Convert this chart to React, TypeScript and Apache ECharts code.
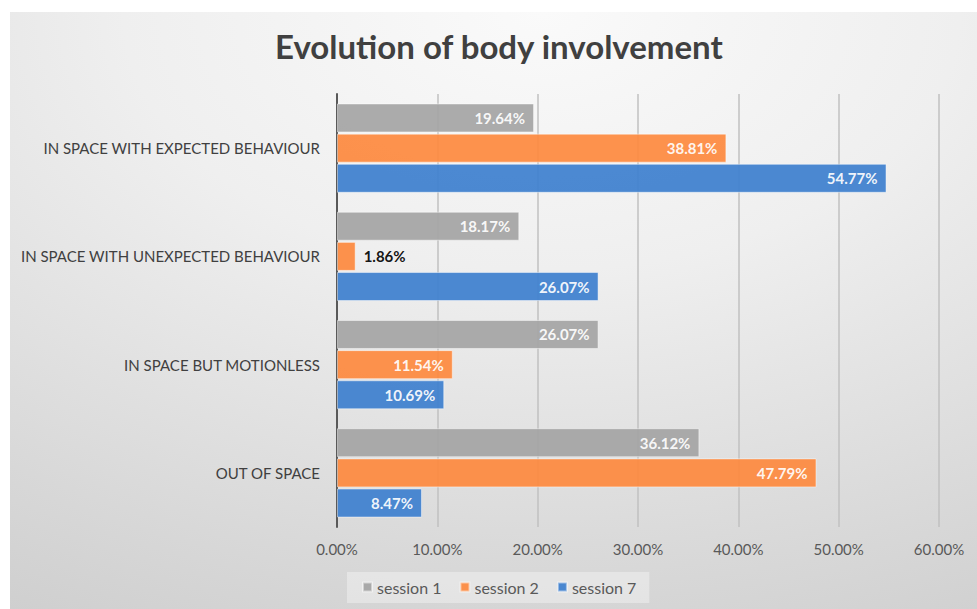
import React, { useEffect, useRef } from "react";
import * as echarts from "echarts";

const categories = [
  "OUT OF SPACE",
  "IN SPACE BUT MOTIONLESS",
  "IN SPACE WITH UNEXPECTED BEHAVIOUR",
  "IN SPACE WITH EXPECTED BEHAVIOUR",
];
const session1 = [36.12, 26.07, 18.17, 19.64];
const session2 = [47.79, 11.54, 1.86, 38.81];
const session7 = [8.47, 10.69, 26.07, 54.77];
const seriesNames = ["session 1", "session 2", "session 7"];
const colors = ["#a5a5a5", "#fd8a3f", "#3e80cf"];
const outsideLabelThreshold = 5;

const FONT = "Lato, 'Open Sans', sans-serif";

export default function App() {
  const ref = useRef<HTMLDivElement>(null);
  useEffect(() => {
    if (!ref.current) return;
    const chart = echarts.init(ref.current, undefined, { renderer: "svg" });
    const mk = (name: string, data: number[], color: string) => ({
      name,
      type: "bar",
      barWidth: 29,
      barGap: "4%",
      itemStyle: { color, opacity: 0.93, borderColor: "rgba(255,255,255,0.5)", borderWidth: 1 },
      data: data.map((v) => {
        const outside = v < outsideLabelThreshold;
        return {
          value: v,
          label: {
            show: true,
            position: outside ? "right" : "insideRight",
            distance: outside ? 8 : 9,
            color: outside ? "#000000" : "#ffffff",
            fontWeight: "bold",
            fontSize: 15,
            fontFamily: FONT,
            formatter: (p: any) => p.value.toFixed(2) + "%",
          },
        };
      }),
    });
    chart.setOption({
      animation: false,
      backgroundColor: "#ffffff",
      title: {
        text: "Evolution of body involvement",
        left: 275,
        top: 29,
        padding: 0,
        textStyle: { fontFamily: FONT, fontSize: 33, fontWeight: "bold", color: "#404040" },
      },
      graphic: [
        {
          type: "rect",
          x: 10,
          y: 12,
          scaleY: 1.6,
          z: -10,
          silent: true,
          shape: { x: 0, y: 0, width: 967, height: 597 / 1.6 },
          style: {
            fill: new echarts.graphic.RadialGradient(0.55, 0.0, 1.44, [
              { offset: 0, color: "#fafafa" },
              { offset: 0.3, color: "#efefef" },
              { offset: 0.65, color: "#d8d8d8" },
              { offset: 1, color: "#c2c2c2" },
            ]),
          },
        },
      ],
      legend: {
        data: seriesNames,
        left: 347,
        top: 572,
        icon: "rect",
        itemWidth: 9,
        itemHeight: 9,
        itemGap: 18,
        padding: [7, 13, 8, 15],
        backgroundColor: "rgba(255,255,255,0.35)",
        textStyle: { fontFamily: FONT, fontSize: 16, color: "#595959" },
      },
      grid: { left: 337, right: 38, top: 94, bottom: 82, containLabel: false },
      xAxis: {
        type: "value",
        min: 0,
        max: 60,
        interval: 10,
        axisLine: { show: false },
        axisTick: { show: false },
        splitLine: { lineStyle: { color: "#c0c0c0", width: 1.5 } },
        axisLabel: {
          margin: 14,
          color: "#595959",
          fontSize: 15,
          fontFamily: FONT,
          formatter: (v: number) => v.toFixed(2) + "%",
        },
      },
      yAxis: {
        type: "category",
        data: categories,
        axisLine: { show: true, lineStyle: { color: "#595959", width: 2 } },
        axisTick: { show: false },
        axisLabel: { margin: 17, color: "#404040", fontSize: 15, fontFamily: FONT },
      },
      series: [
        mk(seriesNames[0], session1, colors[0]),
        mk(seriesNames[1], session2, colors[1]),
        mk(seriesNames[2], session7, colors[2]),
      ],
    });
    return () => chart.dispose();
  }, []);
  return (
    <div
      ref={ref}
      style={{ position: "absolute", left: 0, top: 0, width: 977, height: 609 }}
    />
  );
}
